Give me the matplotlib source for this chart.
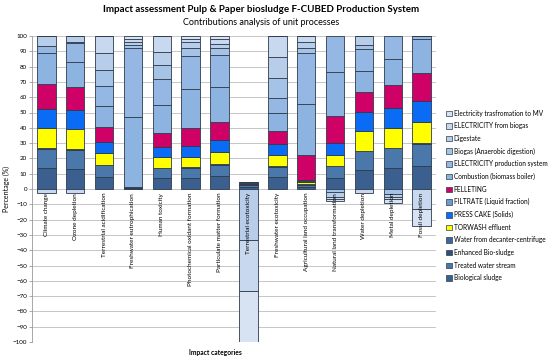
import numpy as np
import matplotlib
matplotlib.use("Agg")
import matplotlib.pyplot as plt
from matplotlib.patches import Patch

plt.rcParams['font.family'] = ['Lato', 'DejaVu Sans']

categories = ["Climate change", "Ozone depletion", "Terrestrial acidification",
              "Freshwater eutrophication", "Human toxicity",
              "Photochemical oxidant formation", "Particulate matter formation",
              "Terrestrial ecotoxicity", "Freshwater ecotoxicity",
              "Agricultural land occupation", "Natural land transformation",
              "Water depletion", "Metal depletion", "Fossil depletion"]

series = ["Biological sludge", "Treated water stream", "Enhanced Bio-sludge",
          "Water from decanter-centrifuge", "TORWASH effluent", "PRESS CAKE (Solids)",
          "FILTRATE (Liquid fraction)", "PELLETING", "Combustion (biomass boiler)",
          "ELECTRICITY production system", "Biogas (Anaerobic digestion)", "Digestate",
          "ELECTRICITY from biogas", "Electricity trasfromation to MV"]

colors = ["#3b6090", "#4a78aa", "#2f4f78", "#3f6896", "#ffff00", "#0a6cf5",
          "#6b9bd2", "#cf0066", "#8db3e0", "#94b8e3", "#a5c2e7", "#b8cdea",
          "#c8d8ee", "#d7e2f2"]

# percentage contribution per series (same order as categories)
biological_sludge = [13.5, 12.8, 8.0, 0.3, 7.0, 7.2, 8.5, 1.5, 7.6, 1.5, 7.4, 12.4, 13.5, 15.0]
treated_water = [12.5, 12.9, 7.4, 0.3, 6.6, 6.7, 7.3, 1.0, 7.1, 1.3, 7.5, 12.3, 13.2, 14.6]
enhanced_biosludge = [0.4, 0.3, 0.2, 0.5, 0.2, 0.2, 0.2, 0.3, 0.2, 0.2, 0.2, 0.2, 0.2, 0.2]
decanter_water = [0.2, 0.1, 0.1, 0.5, 0.1, 0.1, 0.1, 0.4, 0.1, 0.3, 0.1, 0.1, 0.1, 0.1]
torwash = [13.0, 12.9, 7.6, 0.0, 6.8, 6.9, 7.9, 0.0, 7.2, 1.2, 7.0, 12.9, 13.1, 13.7]
press_cake = [12.6, 12.6, 7.7, 0.0, 6.5, 7.0, 8.0, 0.0, 7.0, 1.0, 7.7, 12.6, 13.0, 14.1]
filtrate = [0.1, 0.0, 0.0, 0.0, 0.0, 0.0, 0.0, 0.0, 0.0, 0.4, 0.0, 0.0, 0.0, 0.0]
pelleting = [16.6, 14.9, 9.3, 0.0, 9.6, 12.0, 11.6, 0.8, 8.9, 16.3, 18.0, 13.1, 14.9, 17.9]
combustion = [20.1, 16.7, 14.2, 45.3, 18.1, 25.0, 22.9, 0.8, 11.3, 33.4, 28.8, 13.7, 16.7, 22.4]
electricity_prod = [4.5, 12.0, 12.8, 45.1, 16.8, 22.0, 21.1, 0.0, 9.8, 33.1, 23.3, 14.2, 15.3, 2.0]
biogas = [0.0, 0.8, 10.5, 2.1, 9.3, 4.9, 4.4, 0.0, 13.1, 3.3, -2.2, 2.6, -3.5, 0.0]
digestate = [6.5, 4.0, 11.2, 1.8, 8.7, 4.0, 3.0, -33.5, 13.7, 3.9, -2.8, 5.9, -1.5, 0.0]
electricity_biogas = [-2.3, -2.5, 11.0, 1.9, 10.3, 2.0, 3.0, -33.3, 14.0, 4.1, -1.5, -2.4, -1.5, -13.3]
electricity_mv = [0.0, 0.0, 0.0, 2.2, 0.0, 2.0, 2.0, -33.2, 0.0, 0.0, -1.3, 0.0, -2.8, -10.9]

data = [biological_sludge, treated_water, enhanced_biosludge, decanter_water, torwash,
        press_cake, filtrate, pelleting, combustion, electricity_prod, biogas,
        digestate, electricity_biogas, electricity_mv]

fig = plt.figure(figsize=(5.5, 3.6), dpi=100)
ax = fig.add_axes([0.058, 0.05, 0.735, 0.85])

x = np.arange(len(categories))
pos_bottom = np.zeros(len(categories))
neg_bottom = np.zeros(len(categories))
for name, vals, col in zip(series, data, colors):
    vals = np.array(vals)
    bottom = np.where(vals >= 0, pos_bottom, neg_bottom)
    ax.bar(x, vals, 0.64, bottom=bottom, color=col, edgecolor="#2e3b4c",
           linewidth=0.6, zorder=3)
    pos_bottom += np.where(vals >= 0, vals, 0)
    neg_bottom += np.where(vals < 0, vals, 0)

ax.set_xlim(-0.5, len(categories) - 0.5)
ax.set_ylim(-100, 100)
ax.set_yticks(np.arange(-100, 101, 10))
ax.tick_params(axis="y", labelsize=4.5, length=2, width=0.5, color="#888888", pad=1.5)
ax.set_xticks([])
ax.grid(axis="y", color="#bdbdbd", linewidth=0.6, zorder=0)
for s in ["top", "right", "bottom"]:
    ax.spines[s].set_visible(False)
ax.spines["left"].set_color("#999999")
ax.spines["left"].set_linewidth(0.6)

for i, cat in enumerate(categories):
    ax.text(i, -2.5, cat, rotation=90, ha="center", va="top", fontsize=4.6,
            zorder=5)

ax.set_ylabel("Percentage (%)", fontsize=5, labelpad=2)

fig.text(0.475, 0.975, "Impact assessment Pulp & Paper biosludge F-CUBED Production System",
         ha="center", va="center", fontsize=7, fontweight="bold")
fig.text(0.475, 0.938, "Contributions analysis of unit processes",
         ha="center", va="center", fontsize=6.5)
fig.text(0.343, 0.022, "Impact categories", ha="left", va="center",
         fontsize=4.8, fontweight="bold")

handles = [Patch(facecolor=c, edgecolor="#2e3b4c", linewidth=0.5, label=n)
           for n, c in zip(series, colors)][::-1]
fig.legend(handles=handles, loc="upper left", bbox_to_anchor=(0.806, 0.703),
           frameon=False, fontsize=4.7, handlelength=0.9, handleheight=0.9,
           handletextpad=0.3, labelspacing=0.86, borderaxespad=0)

fig.savefig("out.png", dpi=100)
